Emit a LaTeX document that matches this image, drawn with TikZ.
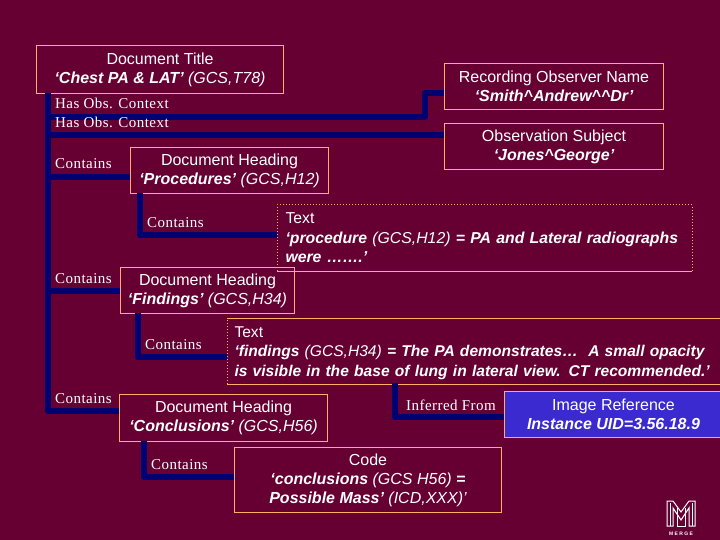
\documentclass[tikz,border=0pt]{standalone}
\usepackage{fontspec}
\setmainfont{Liberation Sans}
\newfontfamily\lblfont[LetterSpace=3]{Liberation Serif}
\usetikzlibrary{calc}
\definecolor{bgc}{HTML}{660033}
\definecolor{edgec}{HTML}{FFAE66}
\definecolor{navyc}{HTML}{000070}
\definecolor{imgc}{HTML}{3A2AD0}
\newcommand{\bi}[1]{{\bfseries\itshape #1}}
\newcommand{\ii}[1]{{\itshape #1}}
\tikzset{
  x=1pt,y=-1pt,
  conn/.style={draw=navyc,line width=6pt,line join=round},
  bx/.style={draw=edgec,line width=1pt,anchor=north west,inner sep=0pt,align=center,text=white,
    font=\fontsize{16}{19}\selectfont},
  ln/.style={text=white,inner sep=0pt,anchor=base west,font=\lblfont\fontsize{15}{16}\selectfont},
  tbx/.style={bx,draw=none,align=left,minimum height=65pt,font=\fontsize{15.8}{19.5}\selectfont},
  solidedge/.style={draw=edgec,line width=1pt},
  dotedge/.style={draw=edgec,line width=1pt,dotted},
  logo/.style={draw=white,line width=1pt,line join=miter}
}
\begin{document}
\begin{tikzpicture}
\path[use as bounding box,fill=bgc] (0,0) rectangle (720,540);
\clip (0,0) rectangle (720,540);
% boxes
\node[bx,minimum width=247pt,minimum height=48pt] (title) at (36,45) {Document Title\\\bi{‘Chest PA \& LAT’} \ii{(GCS,T78)}};
\node[bx,minimum width=219pt,minimum height=46pt] (rec) at (444,63) {Recording Observer Name\\\bi{‘Smith\textasciicircum Andrew\textasciicircum\textasciicircum Dr’}};
\node[bx,minimum width=219pt,minimum height=46pt] (subj) at (444,123) {Observation Subject\\\bi{‘Jones\textasciicircum George’}};
\node[bx,minimum width=198pt,minimum height=46pt] (proc) at (130,147) {Document Heading\\\bi{‘Procedures’} \ii{(GCS,H12)}};
\node[tbx,text width=414pt] (t1) at (277,205) {\hspace*{8pt}Text\\\hspace*{8pt}\bi{‘procedure} \ii{(GCS,H12)} \bi{= PA and Lateral radiographs}\\\hspace*{8pt}\bi{were …….’}};
\draw[dotedge] (t1.south west) -- (t1.north west) -- (t1.north east) -- (t1.south east);
\draw[solidedge] (t1.south west) -- (t1.south east);
\node[bx,minimum width=174pt,minimum height=46pt] (find) at (120,267) {Document Heading\\\bi{‘Findings’} \ii{(GCS,H34)}};
\node[tbx,text width=493pt,font=\fontsize{15.6}{19.5}\selectfont] (t2) at (227,318) {\rule{0pt}{14.5pt}\hspace*{7pt}Text\\\hspace*{7pt}\bi{‘findings} \ii{(GCS,H34)} \bi{= The PA demonstrates…\ \ A small opacity}\\\hspace*{7pt}\bi{is visible in the base of lung in lateral view. CT recommended.’}};
\draw[dotedge] (t2.south west) -- (t2.north west);
\draw[solidedge] (t2.north west) -- (t2.north east);
\draw[solidedge] (t2.south west) -- (t2.south east);
\node[bx,minimum width=208pt,minimum height=47pt] (conc) at (119,394) {Document Heading\\\bi{‘Conclusions’} \ii{(GCS,H56)}};
\node[bx,minimum width=267pt,minimum height=65pt] (code) at (234,447) {Code\\\bi{‘conclusions} \ii{(GCS H56)} \bi{=}\\\bi{Possible Mass’} \ii{(ICD,XXX)’}};
\node[bx,fill=imgc,minimum width=218pt,minimum height=46pt] (img) at (504,391) {Image Reference\\\bi{Instance UID=3.56.18.9}};
% anchor points on the boxes and junctions on the trunk
\coordinate (tr0) at (48,93);
\coordinate (j1) at (48,117);
\coordinate (b1) at (425,117);
\coordinate (b2) at (425,93);
\coordinate (recIn) at (444,93);
\coordinate (j2) at (48,135);
\coordinate (subjIn) at (444,135);
\coordinate (j3) at (48,177);
\coordinate (procIn) at (130,177);
\coordinate (j4) at (48,291);
\coordinate (findIn) at (120,291);
\coordinate (concIn) at (119,411);
\coordinate (p0) at (140,193);
\coordinate (t1In) at (277,235);
\coordinate (f0) at (138,313);
\coordinate (t2In) at (227,357);
\coordinate (c0) at (144,441);
\coordinate (codeIn) at (234,477);
\coordinate (i0) at (395,383);
\coordinate (imgIn) at (504,417);
% connectors
\draw[conn] (tr0) |- (concIn);
\draw[conn] (j1) -- (b1) -- (b2) -- (recIn);
\draw[conn] (j2) -- (subjIn);
\draw[conn] (j3) -- (procIn);
\draw[conn] (j4) -- (findIn);
\draw[conn] (p0) |- (t1In);
\draw[conn] (f0) |- (t2In);
\draw[conn] (c0) |- (codeIn);
\draw[conn] (i0) |- (imgIn);
% labels
\node[ln] (l1) at (55,109) {Has Obs. Context};
\node[ln] (l2) at (55,127.500) {Has Obs. Context};
\node[ln] (l3) at (55,169) {Contains};
\node[ln] (l4) at (147,227) {Contains};
\node[ln] (l5) at (55,283) {Contains};
\node[ln] (l6) at (145,349) {Contains};
\node[ln] (l7) at (55,403) {Contains};
\node[ln] (l8) at (151,469) {Contains};
\node[ln] (l9) at (406,410) {Inferred From};
% logo
\draw[logo] (667,501) -- (667,526) -- (673,526) -- (673,508) -- (681,520) -- (689,508) -- (689,526) -- (695,526) -- (695,501) -- (689,501) -- (681,512) -- (673,501) -- cycle;
\draw[logo] (670,503) -- (670,526) (692,503) -- (692,526) (677,508) -- (677,526) -- (685,526) -- (685,508);
\node[text=white,inner sep=0pt,font=\bfseries\fontsize{5}{6}\selectfont] (mg) at (681,533.500) {M E R G E};
\end{tikzpicture}
\end{document}
